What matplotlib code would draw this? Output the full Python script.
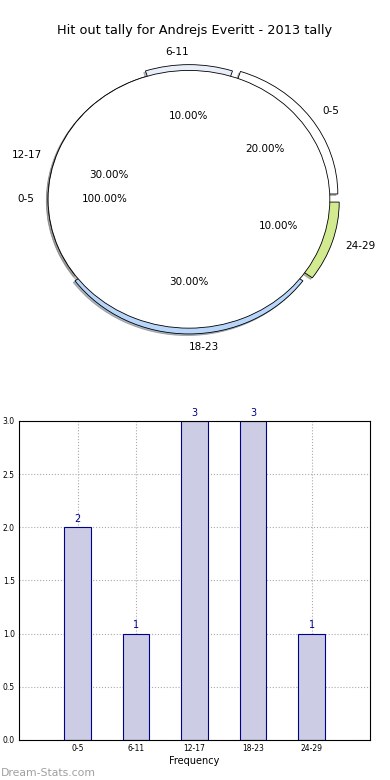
#!/usr/bin/env python3
"""Hit out tally: nested pie + frequency bars."""
import matplotlib

matplotlib.use("Agg")
import matplotlib.pyplot as plt
import numpy as np

TITLE = "Hit out tally for Andrejs Everitt - 2013 tally"
CATEGORIES = ["0-5", "6-11", "12-17", "18-23", "24-29"]
COUNTS = [2, 1, 3, 3, 1]
INNER_LABELS = ["0-5"]
INNER_VALUES = [1]

OUTER_COLORS = ["#ffffff", "#e8eefa", "#ffffff", "#b8d6fa", "#d2ea90"]
OUTER_EXPLODE = [0.07, 0.045, 0.0, 0.045, 0.07]

fig = plt.figure(figsize=(3.9, 7.8), dpi=100)

# --- pie ---
ax_pie = fig.add_axes([0.033, 0.538, 0.903, 0.413])
wedge_kw = dict(edgecolor="black", linewidth=0.6)
shadow_kw = dict(ox=-0.009, oy=-0.009, shade=0.5)
ax_pie.pie(
    COUNTS,
    labels=CATEGORIES,
    colors=OUTER_COLORS,
    explode=OUTER_EXPLODE,
    autopct="%1.2f%%",
    shadow=shadow_kw,
    wedgeprops=wedge_kw,
    textprops=dict(fontsize=7.5),
)
ax_pie.pie(
    INNER_VALUES,
    labels=INNER_LABELS,
    colors=["#ffffff"],
    autopct="%1.2f%%",
    shadow=shadow_kw,
    wedgeprops=wedge_kw,
    textprops=dict(fontsize=7.5),
)
ax_pie.set_aspect("auto")
ax_pie.set_xlim(-1.25, 1.25)
ax_pie.set_ylim(-1.25, 1.25)
fig.text(0.5, 0.961, TITLE, fontsize=9.3, ha="center", va="center")

# --- bars ---
ax_bar = fig.add_axes([0.049, 0.0513, 0.9, 0.409])
x = np.arange(len(CATEGORIES))
bars = ax_bar.bar(x, COUNTS, width=0.45, color="#ccccE4", edgecolor="#00008b",
                  linewidth=0.8, zorder=2)
for rect, val in zip(bars, COUNTS):
    ax_bar.text(rect.get_x() + rect.get_width() / 2, val + 0.03, str(val),
                ha="center", va="bottom", fontsize=7, color="#00008b")
ax_bar.set_xlim(-1, 5)
ax_bar.set_ylim(0, 3.0)
ax_bar.set_xticks(x)
ax_bar.set_xticklabels(CATEGORIES, fontsize=5.5)
ax_bar.set_yticks(np.arange(0, 3.01, 0.5))
ax_bar.set_yticklabels([f"{v:.1f}" for v in np.arange(0, 3.01, 0.5)], fontsize=5.5)
ax_bar.tick_params(length=0, pad=3)
ax_bar.grid(True, linestyle=":", color="#aaaaaa", linewidth=0.8, zorder=0)
ax_bar.set_axisbelow(True)
ax_bar.set_xlabel("Frequency", fontsize=7, labelpad=2)

fig.text(0.002, 0.003, "Dream-Stats.com", fontsize=7.8, color="#a0a0a0",
         ha="left", va="bottom")

fig.savefig("out.png", dpi=100)
